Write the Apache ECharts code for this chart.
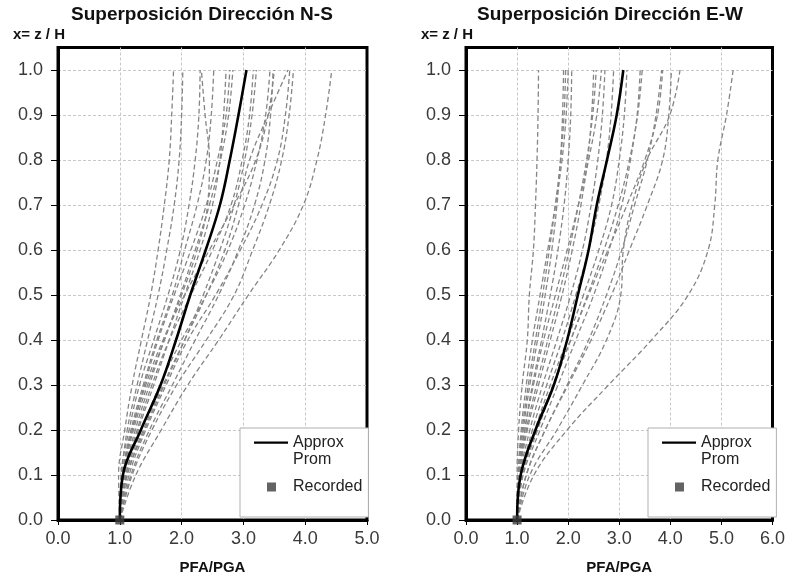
<!DOCTYPE html>
<html><head><meta charset="utf-8">
<script src="https://cdn.jsdelivr.net/npm/echarts@6/dist/echarts.min.js"></script>
<style>html,body{margin:0;padding:0;background:#fff}#c{width:788px;height:581px}</style>
</head><body><div id="c"></div>
<script>
// Relative height x = z/H at which every profile is sampled
const HEIGHTS = [0.0, 0.1, 0.2, 0.3, 0.4, 0.5, 0.6, 0.7, 0.8, 0.9, 1.0];

// Tick values
const Y_TICKS = [0.0, 0.1, 0.2, 0.3, 0.4, 0.5, 0.6, 0.7, 0.8, 0.9, 1.0];
const NS_X_TICKS = [0, 1, 2, 3, 4, 5];
const EW_X_TICKS = [0, 1, 2, 3, 4, 5, 6];

// N-S: PFA/PGA of each record at HEIGHTS
const ns01 = [1.00, 1.26, 1.67, 2.10, 2.60, 3.08, 3.58, 3.97, 4.19, 4.33, 4.43];
const ns02 = [1.00, 1.20, 1.52, 1.92, 2.40, 2.85, 3.15, 3.42, 3.62, 3.74, 3.81];
const ns03 = [1.00, 1.15, 1.42, 1.75, 2.10, 2.55, 2.95, 3.30, 3.55, 3.68, 3.75];
const ns04 = [1.00, 1.12, 1.38, 1.70, 2.05, 2.40, 2.70, 2.92, 3.10, 3.40, 3.72];
const ns05 = [1.00, 1.18, 1.48, 1.85, 2.22, 2.60, 2.92, 3.18, 3.35, 3.44, 3.48];
const ns06 = [1.00, 1.10, 1.35, 1.65, 2.00, 2.40, 2.75, 3.02, 3.22, 3.36, 3.43];
const ns07 = [1.00, 1.05, 1.20, 1.42, 1.70, 2.05, 2.45, 2.85, 3.20, 3.40, 3.50];
const ns08 = [1.00, 1.12, 1.40, 1.72, 2.05, 2.35, 2.62, 2.85, 3.02, 3.14, 3.21];
const ns09 = [1.00, 1.08, 1.28, 1.52, 1.80, 2.15, 2.50, 2.80, 2.98, 3.10, 3.16];
const ns10 = [1.00, 1.07, 1.25, 1.48, 1.72, 1.98, 2.22, 2.45, 2.63, 2.76, 2.83];
const ns11 = [1.00, 1.05, 1.20, 1.40, 1.62, 1.88, 2.15, 2.40, 2.58, 2.72, 2.78];
const ns12 = [1.00, 1.10, 1.30, 1.55, 1.80, 2.05, 2.30, 2.50, 2.62, 2.68, 2.72];
const ns13 = [1.00, 1.04, 1.18, 1.38, 1.60, 1.85, 2.05, 2.25, 2.40, 2.48, 2.52];
const ns14 = [1.00, 1.06, 1.22, 1.45, 1.72, 2.00, 2.25, 2.42, 2.45, 2.38, 2.32];
const ns15 = [1.00, 1.02, 1.15, 1.32, 1.55, 1.78, 1.98, 2.12, 2.22, 2.28, 2.30];
const ns16 = [1.00, 1.03, 1.12, 1.28, 1.45, 1.62, 1.76, 1.88, 1.96, 2.00, 2.02];
const ns17 = [1.00, 0.98, 1.08, 1.20, 1.35, 1.50, 1.62, 1.72, 1.80, 1.84, 1.87];
const NS_APPROX = [1.00, 1.05, 1.34, 1.66, 1.91, 2.14, 2.39, 2.62, 2.78, 2.92, 3.05];
const NS_RECORDED = [1.00, 0.00];

// E-W: PFA/PGA of each record at HEIGHTS
const ew01 = [1.00, 1.33, 1.98, 2.79, 3.63, 4.35, 4.74, 4.87, 4.93, 5.10, 5.23];
const ew02 = [1.00, 1.25, 1.78, 2.28, 2.75, 3.03, 3.08, 3.25, 3.54, 3.99, 4.19];
const ew03 = [1.00, 1.18, 1.55, 2.00, 2.45, 2.85, 3.20, 3.55, 3.85, 3.97, 4.02];
const ew04 = [1.00, 1.18, 1.55, 1.98, 2.40, 2.75, 3.05, 3.30, 3.55, 3.72, 3.83];
const ew05 = [1.00, 1.10, 1.38, 1.70, 2.05, 2.40, 2.78, 3.15, 3.50, 3.75, 3.85];
const ew06 = [1.00, 1.12, 1.45, 1.80, 2.15, 2.50, 2.80, 3.05, 3.22, 3.35, 3.41];
const ew07 = [1.00, 1.10, 1.40, 1.72, 2.05, 2.38, 2.70, 2.98, 3.20, 3.36, 3.45];
const ew08 = [1.00, 1.10, 1.35, 1.65, 1.98, 2.30, 2.60, 2.85, 3.00, 3.10, 3.15];
const ew09 = [1.00, 1.08, 1.30, 1.58, 1.88, 2.15, 2.40, 2.60, 2.75, 2.84, 2.89];
const ew10 = [1.00, 1.06, 1.25, 1.50, 1.78, 2.05, 2.28, 2.45, 2.58, 2.67, 2.72];
const ew11 = [1.00, 1.03, 1.15, 1.32, 1.52, 1.75, 1.98, 2.20, 2.40, 2.56, 2.65];
const ew12 = [1.00, 1.04, 1.18, 1.38, 1.60, 1.82, 2.02, 2.20, 2.36, 2.48, 2.55];
const ew13 = [1.00, 1.05, 1.20, 1.42, 1.65, 1.88, 2.08, 2.25, 2.38, 2.46, 2.50];
const ew14 = [1.00, 1.04, 1.15, 1.30, 1.48, 1.65, 1.80, 1.92, 2.00, 2.05, 2.07];
const ew15 = [1.00, 1.02, 1.08, 1.18, 1.30, 1.45, 1.60, 1.75, 1.88, 1.96, 2.00];
const ew16 = [1.00, 1.02, 1.10, 1.22, 1.36, 1.50, 1.63, 1.75, 1.85, 1.92, 1.95];
const ew17 = [1.00, 1.03, 1.12, 1.25, 1.40, 1.55, 1.68, 1.78, 1.85, 1.89, 1.91];
const ew18 = [1.00, 1.00, 1.03, 1.10, 1.20, 1.24, 1.32, 1.36, 1.39, 1.41, 1.42];
const EW_APPROX = [1.00, 1.07, 1.36, 1.72, 1.98, 2.19, 2.40, 2.56, 2.76, 2.95, 3.08];
const EW_RECORDED = [1.00, 0.00];

const NS_RUNS = [ns01, ns02, ns03, ns04, ns05, ns06, ns07, ns08, ns09, ns10, ns11, ns12, ns13, ns14, ns15, ns16, ns17];
const EW_RUNS = [ew01, ew02, ew03, ew04, ew05, ew06, ew07, ew08, ew09, ew10, ew11, ew12, ew13, ew14, ew15, ew16, ew17, ew18];

const FONT = "'Liberation Sans', Arial, Helvetica, sans-serif";
const pairs = (vals) => vals.map((v, j) => [v, HEIGHTS[j]]);

function runSeries(runs, idx, tag) {
  return runs.map((r, i) => ({
    type: 'line', name: tag + ' ' + (i + 1), xAxisIndex: idx, yAxisIndex: idx,
    data: pairs(r), smooth: 0.4, symbol: 'none', silent: true, z: 2,
    lineStyle: { color: '#858585', width: 1.3, type: [5, 3] }
  }));
}
function mainSeries(approx, rec, idx) {
  return [
    { type: 'line', name: 'Approx Prom', xAxisIndex: idx, yAxisIndex: idx, data: pairs(approx),
      smooth: 0.4, symbol: 'none', z: 5, color: '#000',
      lineStyle: { color: '#000', width: 2.6 } },
    { type: 'scatter', name: 'Recorded', xAxisIndex: idx, yAxisIndex: idx, data: [rec],
      symbol: 'rect', symbolSize: 9, clip: false, z: 6, itemStyle: { color: '#3c3c3c' } }
  ];
}
const SPLIT = { show: true, showMinLine: false, showMaxLine: false, lineStyle: { color: '#c8c8c8', width: 1, type: [3, 2] } };
function xAxis(idx, ticks) {
  return {
    type: 'value', gridIndex: idx, min: ticks[0], max: ticks[ticks.length - 1], interval: 1,
    name: 'PFA/PGA', nameLocation: 'middle', nameGap: 40,
    nameTextStyle: { fontFamily: FONT, fontSize: 15, fontWeight: 'bold', color: '#111' },
    axisLine: { show: true, onZero: false, lineStyle: { color: '#000', width: 3 } },
    axisTick: { show: true, inside: false, length: 5, lineStyle: { color: '#000', width: 1 } },
    axisLabel: { margin: 10, fontFamily: FONT, fontSize: 18, color: '#3a3a3a', formatter: v => v.toFixed(1) },
    splitLine: SPLIT
  };
}
function yAxis(idx) {
  return {
    type: 'value', gridIndex: idx, min: Y_TICKS[0], max: 1.05, interval: 0.1,
    name: 'x= z / H', nameLocation: 'end', nameGap: 5,
    nameTextStyle: { fontFamily: FONT, fontSize: 15, fontWeight: 'bold', color: '#111', align: 'right', padding: [0, -7, 0, 0] },
    axisLine: { show: true, onZero: false, lineStyle: { color: '#000', width: 3 } },
    axisTick: { show: true, inside: false, length: 7, lineStyle: { color: '#000', width: 1 } },
    axisLabel: { margin: 15, fontFamily: FONT, fontSize: 18, color: '#3a3a3a', showMaxLabel: false,
      formatter: v => (v > 1.001 ? '' : v.toFixed(1)) },
    splitLine: SPLIT
  };
}
const LINE_ICON = 'path://M0,0L0,0M34,34L34,34M0,7.5L34,7.5L34,9.7L0,9.7Z';
const SQUARE_ICON = 'path://M0,0L0,0M34,34L34,34M13,12.5L22,12.5L22,21.5L13,21.5Z';
function legend(left) {
  return {
    left: left, top: 428, orient: 'vertical', selectedMode: false,
    itemWidth: 34, itemHeight: 34, itemGap: 2, padding: [6, 6, 13, 14],
    backgroundColor: '#fff', borderColor: '#b0b0b0', borderWidth: 1, z: 10,
    textStyle: { fontFamily: FONT, fontSize: 16, lineHeight: 17, color: '#222' },
    formatter: n => (n === 'Approx Prom' ? 'Approx\nProm' : n),
    data: [
      { name: 'Approx Prom', icon: LINE_ICON, itemStyle: { color: '#000', borderWidth: 0 } },
      { name: 'Recorded', icon: SQUARE_ICON, itemStyle: { color: '#3c3c3c', borderWidth: 0 } }
    ]
  };
}

const chart = echarts.init(document.getElementById('c'), null, { renderer: 'canvas' });
chart.setOption({
  animation: false,
  backgroundColor: '#fff',
  title: [
    { text: 'Superposición Dirección N-S', left: 71, top: 5, padding: 0,
      textStyle: { fontFamily: FONT, fontSize: 19, fontWeight: 'bold', color: '#111' } },
    { text: 'Superposición Dirección E-W', left: 477, top: 5, padding: 0,
      textStyle: { fontFamily: FONT, fontSize: 19, fontWeight: 'bold', color: '#111' } }
  ],
  grid: [
    { left: 58, top: 47.5, width: 309, height: 472.5, show: true, borderColor: '#000', borderWidth: 3, backgroundColor: 'transparent' },
    { left: 466, top: 47.5, width: 310, height: 472.5, show: true, borderColor: '#000', borderWidth: 3, backgroundColor: 'transparent' }
  ],
  xAxis: [xAxis(0, NS_X_TICKS), xAxis(1, EW_X_TICKS)],
  yAxis: [yAxis(0), yAxis(1)],
  legend: [legend(240), legend(648)],
  series: [].concat(
    runSeries(NS_RUNS, 0, 'N-S'), mainSeries(NS_APPROX, NS_RECORDED, 0),
    runSeries(EW_RUNS, 1, 'E-W'), mainSeries(EW_APPROX, EW_RECORDED, 1)
  )
});
</script>
</body></html>
